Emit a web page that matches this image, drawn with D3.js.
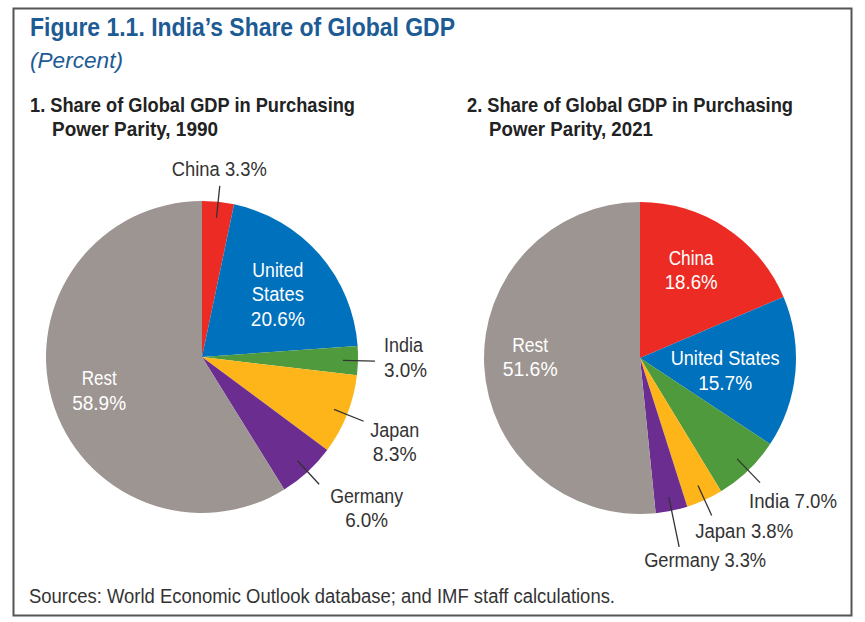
<!DOCTYPE html>
<html>
<head>
<meta charset="utf-8">
<script src="https://cdn.jsdelivr.net/npm/d3@7"></script>
<style>
  html, body { margin: 0; padding: 0; background: #fff; }
  svg { display: block; }
  text { font-family: "Liberation Sans", Arial, "Helvetica", sans-serif; }
</style>
</head>
<body>
<svg id="chart" width="865" height="622"></svg>
<script>
// ---- Data ----
const categories = ["China", "United States", "India", "Japan", "Germany", "Rest"];
const share1990 = [3.3, 20.6, 3.0, 8.3, 6.0, 58.9];
const share2021 = [18.6, 15.7, 7.0, 3.8, 3.3, 51.6];
const colors = ["#EC2B24", "#0071BC", "#4F9A3C", "#FDB51A", "#6C2D91", "#9D9591"];
const titleText = "Figure 1.1. India\u2019s Share of Global GDP";
const unitText = "(Percent)";
const panelTitles = [
  ["1. Share of Global GDP in Purchasing", "Power Parity, 1990"],
  ["2. Share of Global GDP in Purchasing", "Power Parity, 2021"]
];
const sourceText = "Sources: World Economic Outlook database; and IMF staff calculations.";

// ---- Layout (label placement per panel; w = rendered widths of each line) ----
const labelLayouts = [
  [
    { type: "out", lines: ["China 3.3%"], w: [95], r0: 140, r1: 172, anchor: "middle", dx: -0.5, dy: -9.5 },
    { type: "in", lines: ["United", "States", "20.6%"], w: [51, 52, 54], r: 96, dx: 3.5, dy: 0.5 },
    { type: "out", lines: ["India", "3.0%"], w: [39, 43], r0: 141, r1: 173, anchor: "start", dx: 9, dy: -9 },
    { type: "out", lines: ["Japan", "8.3%"], w: [49, 44], r0: 142, r1: 174, anchor: "middle", dx: 31, dy: 15.5 },
    { type: "out", lines: ["Germany", "6.0%"], w: [73, 43], r0: 141, r1: 173, anchor: "middle", dx: 47.5, dy: 18.5 },
    { type: "in", lines: ["Rest", "58.9%"], w: [35, 54], r: 108, dx: 1, dy: 4 }
  ],
  [
    { type: "in", lines: ["China", "18.6%"], w: [45, 53], r: 100, dx: -4, dy: -4.5 },
    { type: "in", lines: ["United States", "15.7%"], w: [109, 54], r: 86, dx: -0.5, dy: 4.5 },
    { type: "out", lines: ["India 7.0%"], w: [88], r0: 140, r1: 173, anchor: "start", dx: -11, dy: 25 },
    { type: "out", lines: ["Japan 3.8%"], w: [98], r0: 140, r1: 173, anchor: "start", dx: -16.5, dy: 22.5 },
    { type: "out", lines: ["Germany 3.3%"], w: [122], r0: 142, r1: 193, anchor: "start", dx: -35, dy: 20 },
    { type: "in", lines: ["Rest", "51.6%"], w: [36, 55], r: 110, dx: 0, dy: -6.5 }
  ]
];

const svg = d3.select("#chart");
const textColor = "#333333";

function fitText(sel, w) {
  sel.attr("textLength", w).attr("lengthAdjust", "spacingAndGlyphs");
  return sel;
}

// frame
svg.append("rect").attr("x", 13.5).attr("y", 8.5).attr("width", 838).attr("height", 607)
  .attr("fill", "#fff").attr("stroke", "#555").attr("stroke-width", 2);

// titles
fitText(svg.append("text").attr("x", 30).attr("y", 36).attr("fill", "#1D5B94")
  .attr("font-size", 26).attr("font-weight", "bold").text(titleText), 425);
fitText(svg.append("text").attr("x", 30).attr("y", 68).attr("fill", "#1D5B94")
  .attr("font-size", 22.5).attr("font-style", "italic").text(unitText), 93);

const panelX = [30, 467];
const panelW = [[325, 166], [326, 164]];
panelTitles.forEach((lines, i) => {
  const t = svg.append("text").attr("fill", "#222").attr("font-size", 20.5).attr("font-weight", "bold");
  fitText(t.append("tspan").attr("x", panelX[i]).attr("y", 112).text(lines[0]), panelW[i][0]);
  fitText(t.append("tspan").attr("x", panelX[i] + 22).attr("y", 136).text(lines[1]), panelW[i][1]);
});

fitText(svg.append("text").attr("x", 29).attr("y", 603).attr("fill", textColor)
  .attr("font-size", 19.5).text(sourceText), 586);

// pies
const centers = [[202, 357], [640, 358]];
const radius = 156;
const pie = d3.pie().sort(null).value(d => d.value);
const arc = d3.arc().innerRadius(0).outerRadius(radius);
const lineH = 24.5;

[share1990, share2021].forEach((vals, p) => {
  const data = categories.map((c, i) => ({ name: c, value: vals[i], color: colors[i], layout: labelLayouts[p][i] }));
  const arcs = pie(data);
  const g = svg.append("g").attr("transform", `translate(${centers[p][0]},${centers[p][1]})`);
  g.selectAll("path.slice").data(arcs).join("path")
    .attr("class", "slice")
    .attr("d", arc)
    .attr("fill", d => d.data.color);

  arcs.forEach(a => {
    const L = a.data.layout;
    const mid = (a.startAngle + a.endAngle) / 2;
    const pol = r => [Math.sin(mid) * r, -Math.cos(mid) * r];
    if (L.type === "in") {
      const c = d3.arc().innerRadius(L.r).outerRadius(L.r).centroid(a);
      const n = L.lines.length;
      L.lines.forEach((s, k) => {
        fitText(g.append("text").attr("fill", "#fff").attr("font-size", 19.5)
          .attr("text-anchor", "middle")
          .attr("x", c[0] + L.dx)
          .attr("y", c[1] + L.dy + (k - (n - 1) / 2) * lineH + 7)
          .text(s), L.w[k]);
      });
    } else {
      const p0 = pol(L.r0), p1 = pol(L.r1);
      g.append("line").attr("x1", p0[0]).attr("y1", p0[1]).attr("x2", p1[0]).attr("y2", p1[1])
        .attr("stroke", "#333").attr("stroke-width", 1.3);
      L.lines.forEach((s, k) => {
        fitText(g.append("text").attr("fill", textColor).attr("font-size", 19.5)
          .attr("text-anchor", L.anchor)
          .attr("x", p1[0] + L.dx).attr("y", p1[1] + L.dy + k * lineH)
          .text(s), L.w[k]);
      });
    }
  });
});
</script>
</body>
</html>
